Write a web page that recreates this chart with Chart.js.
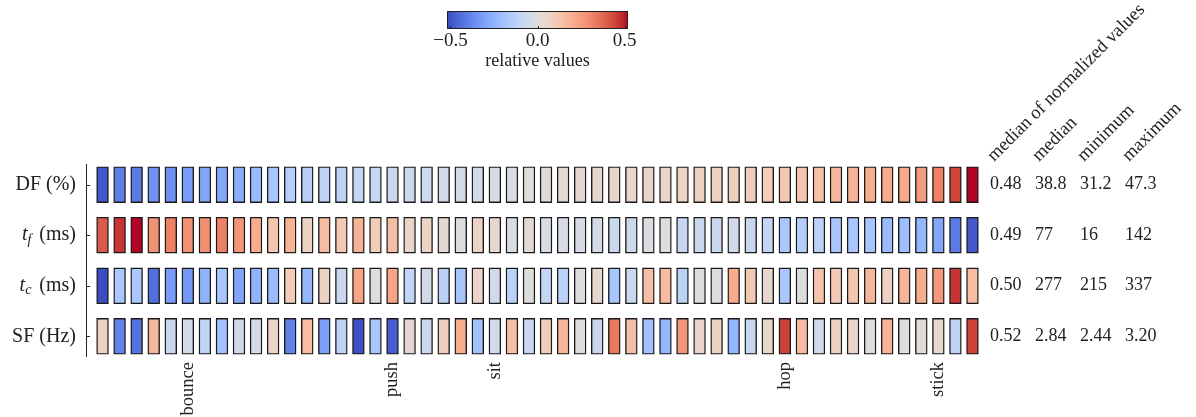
<!doctype html>
<html lang="en">
<head>
<meta charset="utf-8">
<title>relative values heatmap</title>
<script src="https://cdn.jsdelivr.net/npm/chart.js@4.4.0/dist/chart.umd.min.js"></script>
<style>
  html, body { margin: 0; padding: 0; background: #fff; }
  canvas { display: block; }
</style>
</head>
<body>
<canvas id="chart" width="1196" height="417"></canvas>
<script>
'use strict';

// ---- data ----
const rowLabels = ['DF (%)', 't_f (ms)', 't_c (ms)', 'SF (Hz)'];

// 52 trials, only a few are named on the x axis
const columnLabels = Array(52).fill('');
columnLabels[5]  = 'bounce';
columnLabels[17] = 'push';
columnLabels[23] = 'sit';
columnLabels[40] = 'hop';
columnLabels[49] = 'stick';

const dfValues = [
  -0.49, -0.40, -0.41, -0.35, -0.35, -0.32, -0.29, -0.29, -0.27, -0.22, -0.18, -0.14, -0.13, -0.11, -0.11, -0.09, -0.085,
  -0.07, -0.065, -0.06, -0.05, -0.045, -0.04, -0.03, -0.02, 0.0, 0.02, 0.03, 0.035, 0.04, 0.045, 0.05, 0.055, 0.06, 0.065,
  0.07, 0.075, 0.08, 0.09, 0.095, 0.12, 0.125, 0.14, 0.17, 0.185, 0.2, 0.21, 0.22, 0.25, 0.32, 0.44, 0.52,
];
const tfValues = [
  0.40, 0.47, 0.52, 0.28, 0.32, 0.285, 0.285, 0.32, 0.27, 0.21, 0.125, 0.19, 0.07, 0.16, 0.11, 0.19, 0.095,
  0.15, 0.055, 0.065, 0.03, 0.0, 0.06, 0.04, -0.01, 0.03, -0.02, -0.03, -0.03, -0.035, -0.07, -0.06, -0.01, -0.005, -0.08,
  -0.07, -0.07, -0.05, -0.07, -0.09, -0.17, -0.14, -0.12, -0.18, -0.175, -0.18, -0.22, -0.21, -0.24, -0.29, -0.41, -0.49,
];
const tcValues = [
  -0.52, -0.17, -0.17, -0.44, -0.32, -0.33, -0.25, -0.18, -0.29, -0.25, -0.22, 0.095, -0.24, 0.07, -0.07, 0.23, 0.0,
  0.23, -0.10, -0.045, -0.12, -0.18, 0.06, -0.045, -0.125, 0.005, -0.09, -0.125, 0.0, 0.04, -0.18, -0.07, 0.15, 0.16, -0.12,
  0.0, 0.0, 0.21, 0.11, 0.04, -0.17, 0.0, 0.13, 0.10, 0.125, 0.18, 0.07, 0.185, 0.205, 0.26, 0.47, 0.15,
];
const sfValues = [
  0.07, -0.39, -0.43, 0.18, -0.07, -0.04, -0.11, -0.20, -0.05, -0.04, 0.06, -0.39, 0.16, -0.31, -0.11, -0.51, -0.18,
  -0.48, 0.03, -0.07, 0.09, 0.21, -0.20, -0.05, 0.15, -0.07, 0.095, 0.18, 0.0, -0.07, 0.34, 0.15, -0.20, -0.24, 0.27,
  0.05, 0.07, -0.24, -0.07, 0.045, 0.45, 0.16, -0.05, 0.07, 0.055, 0.0, 0.19, 0.0, 0.015, 0.04, -0.11, 0.45,
];
const rowValues = [dfValues, tfValues, tcValues, sfValues];

// summary table on the right
const tableHeaders = ['median of normalized values', 'median', 'minimum', 'maximum'];
const medianNormalized = ['0.48', '0.49', '0.50', '0.52'];
const medians  = ['38.8', '77', '277', '2.84'];
const minimums = ['31.2', '16', '215', '2.44'];
const maximums = ['47.3', '142', '337', '3.20'];

const colorbarTicks = [-0.5, 0.0, 0.5];
const colorbarLabel = 'relative values';

// ---- style ----
const VMIN = -0.52, VMAX = 0.52;
const CELL_HEIGHT = 0.71;          // fraction of a row
const FONT = '"Liberation Serif", "DejaVu Serif", serif';
const INK = '#222';

// matplotlib coolwarm, 33 stops
const COOLWARM = [
  [59,76,192],[68,90,204],[77,104,215],[87,117,225],[98,130,234],[108,142,241],[119,154,247],[130,165,251],
  [141,176,254],[152,185,255],[163,194,255],[174,201,253],[184,208,249],[194,213,244],[204,217,238],[213,219,230],
  [221,221,221],[229,216,209],[236,211,197],[241,204,185],[245,196,173],[247,187,160],[247,177,148],[247,166,135],
  [244,154,123],[241,141,111],[236,127,99],[229,112,88],[222,96,77],[213,80,66],[203,62,56],[192,40,47],[180,4,38],
];

function coolwarm(t) {
  t = Math.max(0, Math.min(1, t));
  const p = t * (COOLWARM.length - 1);
  const i = Math.min(COOLWARM.length - 2, Math.floor(p));
  const f = p - i;
  const a = COOLWARM[i], b = COOLWARM[i + 1];
  const c = a.map((v, k) => Math.round(v + (b[k] - v) * f));
  return `rgb(${c[0]},${c[1]},${c[2]})`;
}

function colorFor(v) {
  return coolwarm((v - VMIN) / (VMAX - VMIN));
}

// "t_f (ms)" -> italic t with italic subscript f
function drawRowLabel(ctx, label, xRight, y) {
  const m = label.match(/^(\w)_(\w)(.*)$/);
  ctx.save();
  ctx.fillStyle = INK;
  ctx.textBaseline = 'middle';
  if (!m) {
    ctx.font = `20px ${FONT}`;
    ctx.textAlign = 'right';
    ctx.fillText(label, xRight, y);
    ctx.restore();
    return;
  }
  const [, base, sub, rest] = m;
  ctx.textAlign = 'left';
  ctx.font = `20px ${FONT}`;
  const wRest = ctx.measureText(rest).width;
  ctx.font = `italic 14px ${FONT}`;
  const wSub = ctx.measureText(sub).width;
  ctx.font = `italic 20px ${FONT}`;
  const wBase = ctx.measureText(base).width;
  let x = xRight - wRest - wSub - wBase - 3;
  ctx.fillText(base, x, y);
  x += wBase;
  ctx.font = `italic 14px ${FONT}`;
  ctx.fillText(sub, x, y + 5);
  x += wSub + 3;
  ctx.font = `20px ${FONT}`;
  ctx.fillText(rest, x, y);
  ctx.restore();
}

const decorations = {
  id: 'decorations',
  afterDraw(chart) {
    const ctx = chart.ctx;
    const area = chart.chartArea;
    const yScale = chart.scales.y;

    // left axis spine with inward ticks
    ctx.save();
    ctx.strokeStyle = INK;
    ctx.lineWidth = 1;
    const ax = Math.round(area.left) + 0.5;
    ctx.beginPath();
    ctx.moveTo(ax, area.top);
    ctx.lineTo(ax, area.bottom);
    rowLabels.forEach((_, r) => {
      const py = Math.round(yScale.getPixelForValue(r)) + 0.5;
      ctx.moveTo(ax, py);
      ctx.lineTo(ax + 3.5, py);
    });
    ctx.stroke();
    ctx.restore();

    rowLabels.forEach((lab, r) => {
      drawRowLabel(ctx, lab, area.left - 10, yScale.getPixelForValue(r));
    });

    // summary table
    const colX = [9, 54, 99, 144].map(d => area.right + d);
    const columns = [medianNormalized, medians, minimums, maximums];
    ctx.save();
    ctx.fillStyle = INK;
    ctx.font = `18px ${FONT}`;
    ctx.textAlign = 'left';
    ctx.textBaseline = 'middle';
    columns.forEach((vals, c) => {
      vals.forEach((txt, r) => ctx.fillText(txt, colX[c], yScale.getPixelForValue(r)));
    });
    ctx.font = `18.5px ${FONT}`;
    ctx.textBaseline = 'alphabetic';
    tableHeaders.forEach((h, c) => {
      ctx.save();
      ctx.translate(colX[c] + 4, area.top - 2);
      ctx.rotate(-Math.PI / 4);
      ctx.fillText(h, 0, 0);
      ctx.restore();
    });
    ctx.restore();

    // colorbar
    const cb = { left: 447, top: 11, width: 181, height: 18 };
    const grad = ctx.createLinearGradient(cb.left, 0, cb.left + cb.width, 0);
    COOLWARM.forEach((c, i) => grad.addColorStop(i / (COOLWARM.length - 1), `rgb(${c[0]},${c[1]},${c[2]})`));
    ctx.save();
    ctx.fillStyle = grad;
    ctx.fillRect(cb.left, cb.top, cb.width, cb.height);
    ctx.strokeStyle = INK;
    ctx.lineWidth = 1;
    ctx.strokeRect(cb.left + 0.5, cb.top + 0.5, cb.width - 1, cb.height - 1);
    ctx.fillStyle = INK;
    ctx.font = `19px ${FONT}`;
    ctx.textAlign = 'center';
    ctx.textBaseline = 'middle';
    colorbarTicks.forEach(v => {
      const px = cb.left + (v - VMIN) / (VMAX - VMIN) * cb.width;
      ctx.beginPath();
      ctx.moveTo(Math.round(px) + 0.5, cb.top + cb.height);
      ctx.lineTo(Math.round(px) + 0.5, cb.top + cb.height - 3);
      ctx.stroke();
      const txt = (v < 0 ? '\u2212' : '') + Math.abs(v).toFixed(1);
      ctx.fillText(txt, px, 41);
    });
    ctx.font = `18px ${FONT}`;
    ctx.fillText(colorbarLabel, cb.left + cb.width / 2, 61);
    ctx.restore();
  }
};

const datasets = rowValues.map((vals, r) => ({
  label: rowLabels[r],
  data: vals.map((v, i) => ({ x: i, y: [r - CELL_HEIGHT / 2, r + CELL_HEIGHT / 2] })),
  backgroundColor: vals.map(colorFor),
  borderColor: '#1a1a1a',
  borderWidth: 1.4,
  borderSkipped: false,
  grouped: false,
  barThickness: 11.8,
}));

Chart.defaults.font.family = FONT;
Chart.defaults.color = INK;

new Chart(document.getElementById('chart'), {
  type: 'bar',
  data: { datasets },
  options: {
    responsive: false,
    animation: false,
    events: [],
    layout: { padding: { left: 86, top: 164, right: 215, bottom: 0 } },
    plugins: { legend: { display: false }, tooltip: { enabled: false } },
    scales: {
      x: {
        type: 'linear',
        min: -0.97,
        max: 51.5,
        offset: false,
        grid: { display: false, drawTicks: false },
        border: { display: false },
        afterBuildTicks: (scale) => {
          scale.ticks = columnLabels
            .map((lab, i) => ({ value: i, lab }))
            .filter(t => t.lab !== '')
            .map(t => ({ value: t.value }));
        },
        afterFit: (scale) => { scale.height = 60; },
        ticks: {
          autoSkip: false,
          minRotation: 90,
          maxRotation: 90,
          padding: 5,
          font: { size: 18.5 },
          callback: (v) => columnLabels[v] || '',
        },
      },
      y: {
        type: 'linear',
        reverse: true,
        min: -0.41,
        max: 3.41,
        display: false,
      },
    },
  },
  plugins: [decorations],
});
</script>
</body>
</html>
